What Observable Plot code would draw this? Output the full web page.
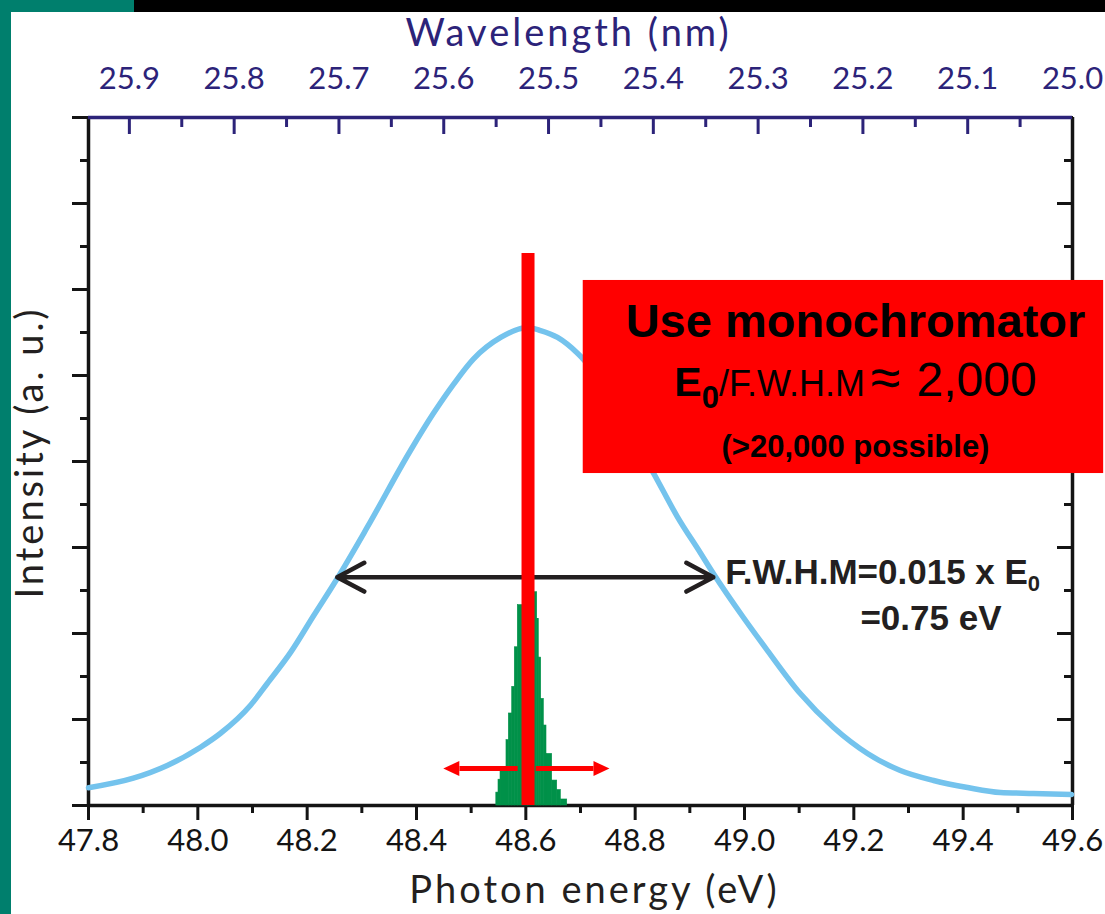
<!DOCTYPE html>
<html>
<head>
<meta charset="utf-8">
<script src="https://cdn.jsdelivr.net/npm/d3@7"></script>
<script src="https://cdn.jsdelivr.net/npm/@observablehq/plot@0.6"></script>
<style>
html, body { margin: 0; padding: 0; background: #fff; width: 1105px; height: 914px; overflow: hidden; }
#wrap { position: relative; width: 1105px; height: 914px; }
.deco { position: absolute; }
</style>
</head>
<body>
<div id="wrap"></div>
<script>
// ---------- data ----------
const energyTicks = [47.8, 48.0, 48.2, 48.4, 48.6, 48.8, 49.0, 49.2, 49.4, 49.6];
const energyMinorTicks = [47.9, 48.1, 48.3, 48.5, 48.7, 48.9, 49.1, 49.3, 49.5];
const wavelengthTicks = [25.9, 25.8, 25.7, 25.6, 25.5, 25.4, 25.3, 25.2, 25.1, 25.0];
const wavelengthMinorTicks = [25.85, 25.75, 25.65, 25.55, 25.45, 25.35, 25.25, 25.15, 25.05];
const intensityTicks = [0, 1, 2, 3, 4, 5, 6, 7, 8];
const intensityMinorTicks = [0.5, 1.5, 2.5, 3.5, 4.5, 5.5, 6.5, 7.5];
const wavelengthRange = [25.939, 25.0]; // wavelength at the two ends of the energy axis

// broad source spectrum (blue)
const curveEnergy = [47.80, 47.882, 47.944, 48.005, 48.041, 48.096, 48.127, 48.170, 48.212, 48.255,
  48.310, 48.389, 48.431, 48.468, 48.504, 48.554, 48.603, 48.627, 48.658, 48.695,
  48.834, 48.877, 48.920, 48.943, 48.998, 49.042, 49.102, 49.163, 49.225, 49.285,
  49.346, 49.408, 49.468, 49.529, 49.598];
const curveIntensity = [0.206, 0.317, 0.465, 0.678, 0.837, 1.163, 1.419, 1.783, 2.209, 2.640,
  3.236, 4.128, 4.560, 4.900, 5.190, 5.442, 5.558, 5.523, 5.442, 5.256,
  3.860, 3.360, 2.930, 2.698, 2.186, 1.802, 1.302, 0.907, 0.605, 0.407,
  0.291, 0.209, 0.151, 0.140, 0.128];

// monochromated histogram (green)
const binStart = [48.546, 48.550, 48.5537, 48.5646, 48.5689, 48.5751, 48.5798, 48.5853, 48.604,
  48.6208, 48.6237, 48.6281, 48.6329, 48.6378, 48.6482, 48.6574, 48.664];
const binEnd = [48.550, 48.5537, 48.5646, 48.5689, 48.5751, 48.5798, 48.5853, 48.604, 48.6208,
  48.6237, 48.6281, 48.6329, 48.6378, 48.6482, 48.6574, 48.664, 48.6757];
const binHeight = [0.15, 0.30, 0.45, 0.76, 1.07, 1.38, 1.84, 2.33, 2.48,
  2.17, 1.72, 1.24, 0.93, 0.60, 0.29, 0.18, 0.07];

// annotations (data units)
const monoLine = {energy: 48.604, top: 6.42};
const redArrowStart = [48.585, 48.618];
const redArrowBase = [48.4786, 48.7238];
const redArrowTip = [48.449, 48.753];
const redArrowLevel = 0.43;
const fwhmEnds = [48.255, 48.943];
const fwhmLevel = 2.655;
const boxExtent = {x1: 48.705, x2: 49.657, y1: 3.86, y2: 6.105};
const boxLines = ["Use monochromator", "E0/F.W.H.M ≈ 2,000", "(>20,000 possible)"];
const boxLineLevels = [5.442, 4.756, 4.047];
const boxCenter = 49.203;
const fwhmLabels = ["F.W.H.M=0.015 x E0", "=0.75 eV"];
const fwhmLabelX = [48.965, 49.212];
const fwhmLabelY = [2.581, 2.035];

// ---------- derived tables ----------
const eMin = energyTicks[0], eMax = energyTicks[energyTicks.length - 1];
const toEnergy = (l) => eMin + (wavelengthRange[0] - l) / (wavelengthRange[0] - wavelengthRange[1]) * (eMax - eMin);
const toLambda = (e) => wavelengthRange[0] - (e - eMin) / (eMax - eMin) * (wavelengthRange[0] - wavelengthRange[1]);
const curve = curveEnergy.map((e, i) => ({E: e, I: curveIntensity[i]}));
const bins = binStart.map((s, i) => ({x1: s, x2: binEnd[i], h: binHeight[i]}));
const redShafts = redArrowStart.map((s, i) => ({x1: s, x2: redArrowBase[i]}));
const fwhmMid = (fwhmEnds[0] + fwhmEnds[1]) / 2;
const fwhmArrows = fwhmEnds.map(e => ({x1: fwhmMid, x2: e}));

const fmt = d3.format(".1f");
const navy = "#2c2379";
const ink = "#141414";
const headRight = {draw(c) { c.moveTo(0, 0); c.lineTo(-16, -7.5); c.lineTo(-16, 7.5); c.closePath(); }};
const headLeft = {draw(c) { c.moveTo(0, 0); c.lineTo(16, -7.5); c.lineTo(16, 7.5); c.closePath(); }};
const none = () => "";

const chart = Plot.plot({
  width: 1105,
  height: 914,
  marginTop: 117,
  marginRight: 33,
  marginBottom: 109,
  marginLeft: 88,
  x: {domain: [eMin, eMax]},
  y: {domain: [0, 8]},
  style: {background: "white", fontFamily: "Lato, 'Liberation Sans', sans-serif", fontSize: "31px", color: ink, overflow: "visible"},
  marks: [
    // axes
    Plot.axisX(energyTicks, {anchor: "bottom", tickSize: 15, tickPadding: 8, strokeWidth: 3, tickFormat: fmt, label: null, color: ink}),
    Plot.axisX(energyMinorTicks, {anchor: "bottom", tickSize: 8, strokeWidth: 3, tickFormat: none, label: null, color: ink}),
    Plot.axisX(wavelengthTicks.map(toEnergy), {anchor: "top", tickSize: -16, tickPadding: 45, strokeWidth: 3, tickFormat: e => fmt(toLambda(e)), label: null, color: navy}),
    Plot.axisX(wavelengthMinorTicks.map(toEnergy), {anchor: "top", tickSize: -9, strokeWidth: 3, tickFormat: none, label: null, color: navy}),
    Plot.axisY(intensityTicks, {anchor: "left", tickSize: 16, strokeWidth: 3, tickFormat: none, label: null, color: ink}),
    Plot.axisY(intensityMinorTicks, {anchor: "left", tickSize: 8, strokeWidth: 3, tickFormat: none, label: null, color: ink}),
    Plot.axisY(intensityTicks, {anchor: "right", tickSize: -16, strokeWidth: 3, tickFormat: none, label: null, color: ink}),
    Plot.axisY(intensityMinorTicks, {anchor: "right", tickSize: -9, strokeWidth: 3, tickFormat: none, label: null, color: ink}),
    Plot.ruleY([0], {stroke: ink, strokeWidth: 3.5}),
    Plot.ruleX([eMin], {stroke: ink, strokeWidth: 3.5}),
    Plot.ruleX([eMax], {stroke: ink, strokeWidth: 3.5}),
    Plot.ruleY([8], {stroke: navy, strokeWidth: 3.5}),

    // broad spectrum
    Plot.line(curve, {x: "E", y: "I", stroke: "#74c3ed", strokeWidth: 5.5, curve: "monotone-x"}),

    // FWHM double arrow
    Plot.arrow(fwhmArrows, {x1: "x1", x2: "x2", y1: fwhmLevel, y2: fwhmLevel, stroke: "#231f20", strokeWidth: 4.5, headLength: 10.2, headAngle: 56}),

    // monochromated histogram
    Plot.rectY(bins, {x1: "x1", x2: "x2", y: "h", fill: "#009149", stroke: "#009149", strokeWidth: 0.6}),

    // monochromator line
    Plot.ruleX([monoLine.energy], {y1: 0, y2: monoLine.top, stroke: "#ff0000", strokeWidth: 13}),

    // red arrows
    Plot.link(redShafts, {x1: "x1", x2: "x2", y1: redArrowLevel, y2: redArrowLevel, stroke: "#ff0000", strokeWidth: 5}),
    Plot.dot([redArrowTip[0]], {x: d => d, y: redArrowLevel, symbol: headLeft, fill: "#ff0000", stroke: "none", r: 8}),
    Plot.dot([redArrowTip[1]], {x: d => d, y: redArrowLevel, symbol: headRight, fill: "#ff0000", stroke: "none", r: 8}),

    // red box annotation
    Plot.rect([boxExtent], {x1: "x1", x2: "x2", y1: "y1", y2: "y2", fill: "#ff0000"}),
    Plot.text([boxLines[0]], {text: d => d, x: boxCenter, y: boxLineLevels[0], lineAnchor: "bottom", fontSize: 47, fontWeight: "bold", fontFamily: "Liberation Sans", fill: "#000"}),
    Plot.text([boxLines[1]], {text: d => d, x: boxCenter, y: boxLineLevels[1], lineAnchor: "bottom", fontSize: 47, fontFamily: "Liberation Sans", fill: "#000"}),
    Plot.text([boxLines[2]], {text: d => d, x: boxCenter, y: boxLineLevels[2], lineAnchor: "bottom", fontSize: 31, fontWeight: "bold", fontFamily: "Liberation Sans", fill: "#000"}),

    // FWHM labels
    Plot.text([fwhmLabels[0]], {text: d => d, x: fwhmLabelX[0], y: fwhmLabelY[0], textAnchor: "start", lineAnchor: "bottom", fontSize: 35, fontWeight: "bold", fontFamily: "Liberation Sans", fill: "#231f20"}),
    Plot.text([fwhmLabels[1]], {text: d => d, x: fwhmLabelX[1], y: fwhmLabelY[1], textAnchor: "start", lineAnchor: "bottom", fontSize: 35, fontWeight: "bold", fontFamily: "Liberation Sans", fill: "#231f20"}),

    // axis titles
    Plot.text(["Wavelength (nm)"], {text: d => d, frameAnchor: "top", textAnchor: "middle", lineAnchor: "bottom", dy: -72, dx: -12, fontSize: 38, fill: navy}),
    Plot.text(["Photon energy (eV)"], {text: d => d, frameAnchor: "bottom", textAnchor: "middle", lineAnchor: "bottom", dy: 97, dx: 14, fontSize: 38, fill: "#231f20"}),
    Plot.text(["Intensity (a. u.)"], {text: d => d, frameAnchor: "left", textAnchor: "middle", lineAnchor: "bottom", rotate: -90, dx: -46, dy: -9, fontSize: 38, fill: "#231f20"})
  ]
});

const wrap = document.getElementById("wrap");
wrap.append(chart);

// rich text (subscripts / mixed weights)
const svg = d3.select(chart);
function rebuild(content, parts) {
  svg.selectAll("text").filter(function() { return this.textContent === content; }).each(function() {
    const t = d3.select(this);
    t.text(null);
    for (const p of parts) {
      const s = t.append("tspan").text(p.t);
      if (p.w) s.attr("font-weight", p.w);
      if (p.s) s.attr("font-size", p.s);
      if (p.dy) s.attr("dy", p.dy);
      if (p.dx) s.attr("dx", p.dx);
    }
  });
}
rebuild(boxLines[1], [
  {t: "E", w: "bold", s: 41},
  {t: "0", w: "bold", s: 31, dy: 12},
  {t: "/F.W.H.M", w: "normal", s: 36, dy: -12},
  {t: "≈", w: "normal", s: 54, dx: 6},
  {t: "2,000", w: "normal", s: 48, dx: 16}
]);
rebuild(fwhmLabels[0], [
  {t: "F.W.H.M=0.015 x E", s: 35},
  {t: "0", s: 22, dy: 7}
]);
svg.selectAll("text").filter(function() { return ["Photon energy (eV)", "Intensity (a. u.)", "Wavelength (nm)"].includes(this.textContent); })
  .style("letter-spacing", "3px");

// page decorations
for (const [l, t, w, h, c] of [[0, 0, 11, 914, "#007f6d"], [0, 0, 134, 12, "#007f6d"], [134, 0, 971, 12, "#000"]]) {
  const d = document.createElement("div");
  d.className = "deco";
  Object.assign(d.style, {left: l + "px", top: t + "px", width: w + "px", height: h + "px", background: c});
  wrap.append(d);
}
</script>
</body>
</html>
